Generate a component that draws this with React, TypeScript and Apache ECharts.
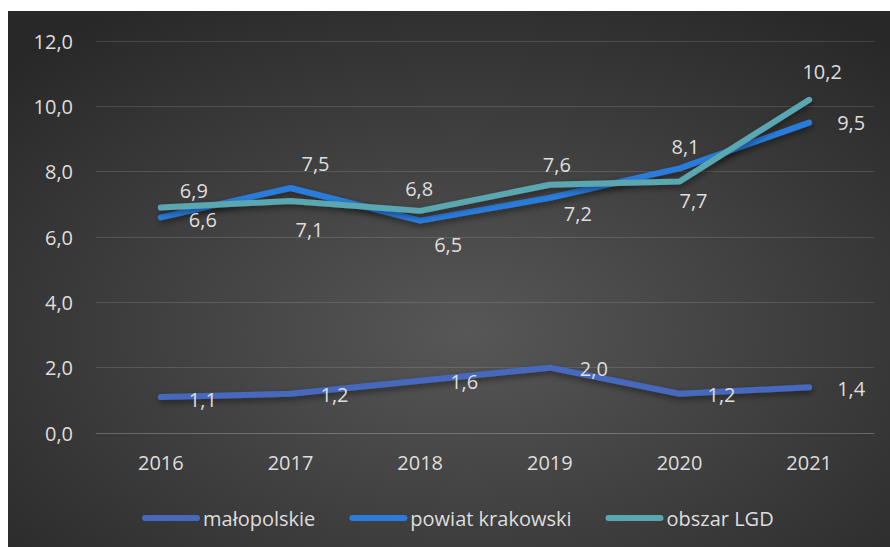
import React, { useEffect, useRef } from "react";
import * as echarts from "echarts";

const years = ["2016", "2017", "2018", "2019", "2020", "2021"];
const malopolskie = [1.1, 1.2, 1.6, 2.0, 1.2, 1.4];
const powiatKrakowski = [6.6, 7.5, 6.5, 7.2, 8.1, 9.5];
const obszarLGD = [6.9, 7.1, 6.8, 7.6, 7.7, 10.2];
const seriesNames = ["małopolskie", "powiat krakowski", "obszar LGD"];

// label offsets (px) from each point, as placed in the source
const malOffsets = [[42, 2], [44, 1], [44, 1], [44, 1], [42, 1], [42, 1]];
const powOffsets = [[42, 2], [25, -25], [28, 24], [28, 16], [6, -22], [42, 0]];
const lgdOffsets = [[33, -17], [19, 28], [-1, -22], [7, -20], [14, 19], [13, -28]];

const colors = ["#4669BD", "#2B7CDC", "#5AA7B1"];
const textColor = "#DEDEDE";
const font = "'Open Sans', 'Noto Sans', sans-serif";
const fs = 20;

const fmt = (v: number) => v.toFixed(1).replace(".", ",");

function buildData(values: number[], offsets: number[][]) {
  return values.map((v, i) => ({
    value: v,
    label: { offset: offsets[i] },
  }));
}

export default function App() {
  const ref = useRef<HTMLDivElement>(null);
  useEffect(() => {
    if (!ref.current) return;
    const chart = echarts.init(ref.current, undefined, { renderer: "svg" });
    const mk = (name: string, values: number[], offsets: number[][], color: string) => ({
      name,
      type: "line",
      data: buildData(values, offsets),
      showSymbol: true,
      symbol: "circle",
      symbolSize: 1,
      itemStyle: { color: "rgba(0,0,0,0)" },
      lineStyle: {
        color,
        width: 6,
        cap: "round",
        join: "round",
        shadowColor: "rgba(0,0,0,0.45)",
        shadowBlur: 6,
        shadowOffsetX: 1,
        shadowOffsetY: 3,
      },
      label: {
        show: true,
        position: "inside",
        color: textColor,
        fontSize: fs,
        fontFamily: font,
        formatter: (p: any) => fmt(p.value),
      },
      emphasis: { disabled: true },
    });
    chart.setOption({
      animation: false,
      backgroundColor: new echarts.graphic.RadialGradient(0.52, 0.6, 0.72, [
        { offset: 0, color: "#575757" },
        { offset: 1, color: "#282828" },
      ]),
      textStyle: { fontFamily: font },
      grid: { left: 88, right: 16, top: 30, bottom: 114 },
      legend: {
        data: seriesNames.map((n, i) => ({ name: n, itemStyle: { color: colors[i] } })),
        left: 129,
        top: 492,
        icon: "path://M3,0 L55,0 A3,3 0 0 1 55,6 L3,6 A3,3 0 0 1 3,0 Z",
        itemWidth: 58,
        itemHeight: 6,
        itemGap: 34,
        textStyle: { color: textColor, fontSize: fs, fontFamily: font, padding: [0, 0, 0, -2] },
      },
      xAxis: {
        type: "category",
        data: years,
        boundaryGap: true,
        axisLine: { show: true, lineStyle: { color: "rgba(217,217,217,0.16)", width: 1 } },
        axisTick: { show: false },
        axisLabel: { color: textColor, fontSize: fs, fontFamily: font, margin: 19 },
      },
      yAxis: {
        type: "value",
        min: 0,
        max: 12,
        interval: 2,
        axisLine: { show: false },
        axisTick: { show: false },
        splitLine: { lineStyle: { color: "rgba(217,217,217,0.16)", width: 1 } },
        axisLabel: { color: textColor, fontSize: fs, fontFamily: font, margin: 23, formatter: (v: number) => fmt(v) },
      },
      series: [
        mk(seriesNames[0], malopolskie, malOffsets, colors[0]),
        mk(seriesNames[1], powiatKrakowski, powOffsets, colors[1]),
        mk(seriesNames[2], obszarLGD, lgdOffsets, colors[2]),
      ],
    });
    return () => chart.dispose();
  }, []);
  return (
    <div
      ref={ref}
      style={{ position: "absolute", left: 8, top: 11, width: 882, height: 536 }}
    />
  );
}
